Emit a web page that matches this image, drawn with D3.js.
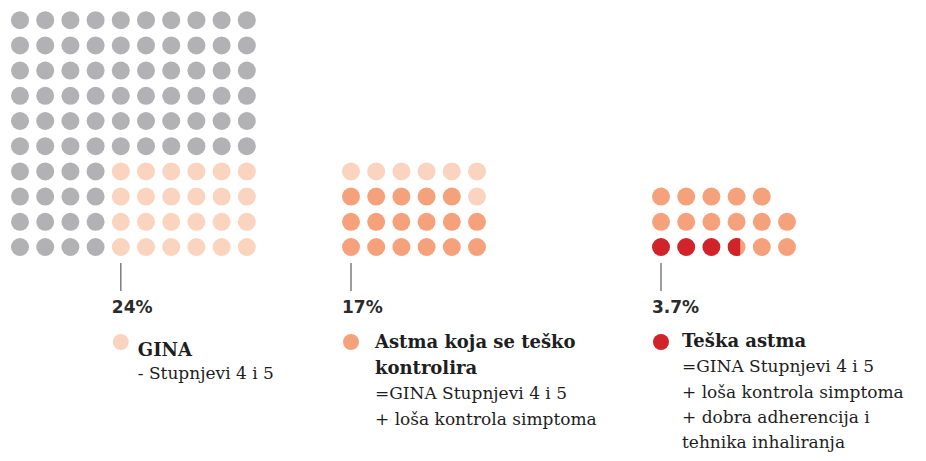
<!DOCTYPE html>
<html>
<head>
<meta charset="utf-8">
<script src="https://cdn.jsdelivr.net/npm/d3@7"></script>
<style>
  html, body { margin: 0; padding: 0; background: #fff; }
  svg { display: block; }
</style>
</head>
<body>
<div id="chart"></div>
<script>
// data
// dot keys: g = ostali, a = GINA 4-5, b = teško kontrolirana, c = teška astma
var waffleGina = [
  "gggggggggg", "gggggggggg", "gggggggggg", "gggggggggg", "gggggggggg",
  "gggggggggg", "ggggaaaaaa", "ggggaaaaaa", "ggggaaaaaa", "ggggaaaaaa"
];
var waffleHard = ["aaaaaa", "bbbbba", "bbbbbb", "bbbbbb"];
var waffleSevere = ["bbbbb", "bbbbbb", "ccccbb"];
var severeValue = 3.7; // last red dot is only partly filled

var percentLabels = ["24%", "17%", "3.7%"];
var legendKeys = ["a", "b", "c"];
var titleLines = [["GINA"], ["Astma koja se teško", "kontrolira"], ["Teška astma"]];
var noteLines = [
  ["- Stupnjevi 4 i 5"],
  ["=GINA Stupnjevi 4 i 5", "+ loša kontrola simptoma"],
  ["=GINA Stupnjevi 4 i 5", "+ loša kontrola simptoma", "+ dobra adherencija i", "tehnika inhaliranja"]
];

var colors = { g: "#b2b2b4", a: "#fbd4c0", b: "#f5a27c", c: "#d0232a" };

// layout
var width = 926, height = 461;
var step = 25.2, r = 9;
var panels = [
  { grid: waffleGina, x0: 20, tickCol: 4, textDx: 17, baseY: 356, lineH: 22.5 },
  { grid: waffleHard, x0: 351, tickCol: 0, textDx: 24, baseY: 348, lineH: 25.5 },
  { grid: waffleSevere, x0: 661, tickCol: 0, textDx: 21, baseY: 347, lineH: 25.3 }
];

var svg = d3.select("#chart").append("svg")
  .attr("width", width)
  .attr("height", height);

// rows counted from the bottom so all grids share a baseline
var y = d3.scaleLinear().domain([0, 9]).range([247, 247 - 9 * step]);

var defs = svg.append("defs");

panels.forEach(function(p, pi) {
  var x = d3.scaleLinear().domain([0, 9]).range([p.x0, p.x0 + 9 * step]);
  var nRows = p.grid.length;

  var cells = [];
  p.grid.forEach(function(row, ri) {
    row.split("").forEach(function(k, ci) {
      cells.push({ key: k, col: ci, row: nRows - 1 - ri });
    });
  });

  var g = svg.append("g");
  var cIndex = 0;
  cells.forEach(function(d) {
    if (d.key === "c") {
      var frac = Math.max(0, Math.min(1, severeValue - cIndex));
      cIndex++;
      if (frac < 1) {
        var id = "part" + cIndex;
        defs.append("clipPath").attr("id", id)
          .append("rect")
          .attr("x", x(d.col) - r)
          .attr("y", y(d.row) - r)
          .attr("width", 2 * r * frac)
          .attr("height", 2 * r);
        g.append("circle")
          .attr("cx", x(d.col)).attr("cy", y(d.row)).attr("r", r)
          .attr("fill", colors.b);
        g.append("circle")
          .attr("cx", x(d.col)).attr("cy", y(d.row)).attr("r", r)
          .attr("fill", colors.c)
          .attr("clip-path", "url(#" + id + ")");
        return;
      }
    }
    g.append("circle")
      .attr("cx", x(d.col))
      .attr("cy", y(d.row))
      .attr("r", r)
      .attr("fill", colors[d.key]);
  });

  var tx = x(p.tickCol);

  svg.append("line")
    .attr("x1", tx).attr("x2", tx)
    .attr("y1", 263).attr("y2", 291)
    .attr("stroke", "#7d7d7d")
    .attr("stroke-width", 1.5);

  svg.append("text")
    .attr("x", tx - 9)
    .attr("y", 313)
    .attr("font-family", "DejaVu Sans, Verdana, sans-serif")
    .attr("font-weight", "bold")
    .attr("font-size", 17)
    .attr("fill", "#2b2b2b")
    .text(percentLabels[pi]);

  svg.append("circle")
    .attr("cx", tx)
    .attr("cy", 342)
    .attr("r", 8)
    .attr("fill", colors[legendKeys[pi]]);

  var lines = titleLines[pi].map(function(t) { return { t: t, bold: true }; })
    .concat(noteLines[pi].map(function(t) { return { t: t, bold: false }; }));

  svg.append("g").selectAll("text")
    .data(lines)
    .enter().append("text")
    .attr("x", tx + p.textDx)
    .attr("y", function(d, i) { return p.baseY + i * p.lineH; })
    .attr("font-family", "DejaVu Serif, serif")
    .attr("font-weight", function(d) { return d.bold ? "bold" : "normal"; })
    .attr("font-size", function(d) { return d.bold ? 18 : 17; })
    .attr("fill", "#1e1e1e")
    .text(function(d) { return d.t; });
});
</script>
</body>
</html>
